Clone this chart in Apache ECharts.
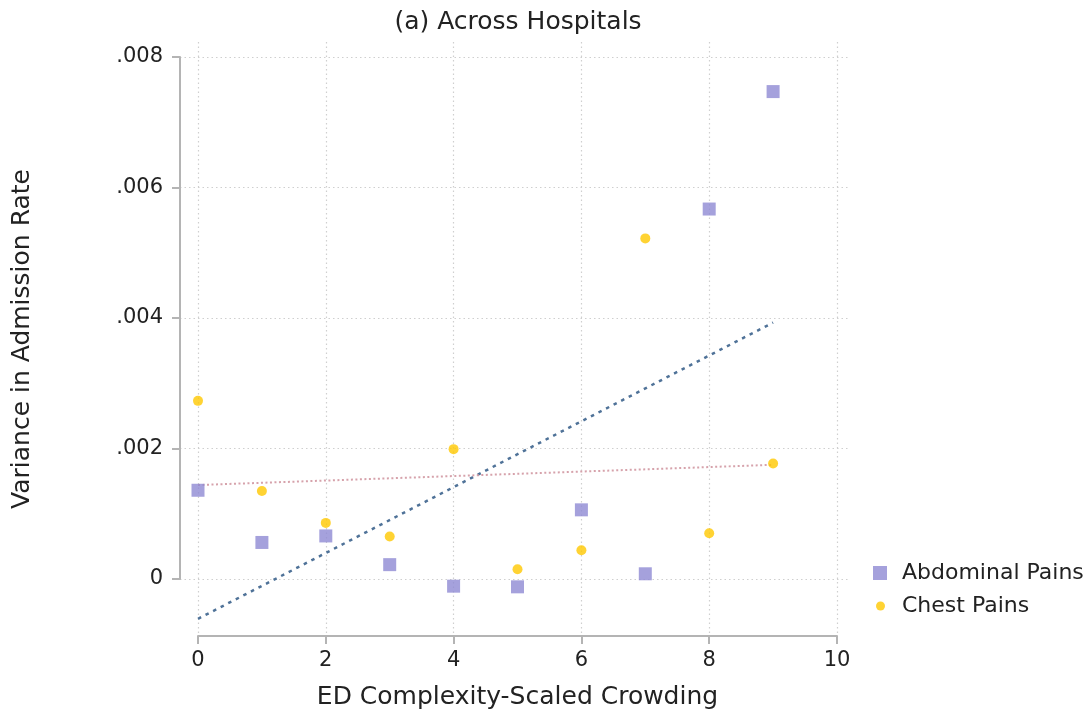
<!DOCTYPE html>
<html>
<head>
<meta charset="utf-8">
<title>Across Hospitals</title>
<script src="https://cdn.jsdelivr.net/npm/echarts@6/dist/echarts.min.js"></script>
<style>
html, body { margin: 0; padding: 0; background: #fff; }
#main { width: 1089px; height: 715px; }
</style>
</head>
<body>
<div id="main"></div>
<script>
// crowding levels (x) and the two variance series
var crowding = [0, 1, 2, 3, 4, 5, 6, 7, 8, 9];
var abdominal = [0.00136, 0.00056, 0.00066, 0.00022, -0.00011, -0.00012, 0.00106, 0.00008, 0.00567, 0.00747];
var chest = [0.00273, 0.00135, 0.00086, 0.00065, 0.00199, 0.00015, 0.00044, 0.00522, 0.00070, 0.00177];
// fitted lines, end points
var fitX = [0, 9];
var abdominalFit = [-0.00061, 0.00393];
var chestFit = [0.00144, 0.00175];
// axis ticks
var xTicks = [0, 2, 4, 6, 8, 10];
var yTicks = [0, 0.002, 0.004, 0.006, 0.008];

var font = 'DejaVu Sans';
var txt = '#222';
var axisGray = '#b4b4b4';
var gridDots = { color: '#cfcfcf', width: 1.2, type: [1.5, 3] };

function pairs(xs, ys) {
	var out = [];
	for (var i = 0; i < xs.length; i++) out.push([xs[i], ys[i]]);
	return out;
}

var myChart = echarts.init(document.getElementById('main'));
option = {
	animation: false,
	backgroundColor: '#fff',
	title: {
		text: '(a) Across Hospitals',
		left: 518,
		top: 10,
		padding: 0,
		textAlign: 'center',
		textStyle: { fontFamily: font, fontSize: 25, fontWeight: 'normal', color: txt }
	},
	legend: [{
		data: [{ name: 'Abdominal Pains', icon: 'rect' }],
		orient: 'vertical',
		left: 873,
		top: 562,
		padding: 0,
		itemWidth: 14,
		itemHeight: 14,
		textStyle: { fontFamily: font, fontSize: 22, color: txt, padding: [0, 0, 0, 10] }
	}, {
		data: [{ name: 'Chest Pains', icon: 'circle' }],
		orient: 'vertical',
		left: 876,
		top: 595,
		padding: 0,
		itemWidth: 9,
		itemHeight: 9,
		textStyle: { fontFamily: font, fontSize: 22, color: txt, padding: [0, 0, 0, 12] }
	}],
	grid: [
		// data area: x 0..10, y 0...008
		{ left: 198, top: 57, width: 639, height: 522 },
		// y axis + horizontal grid lines
		{ left: 180, top: 57, width: 670, height: 522 },
		// x axis + vertical grid lines
		{ left: 198, top: 42, width: 639, height: 595 }
	],
	xAxis: [{
		gridIndex: 0, type: 'value', min: 0, max: 10, show: false
	}, {
		gridIndex: 1, type: 'value', min: 0, max: 10, show: false
	}, {
		gridIndex: 2,
		type: 'value',
		min: xTicks[0],
		max: xTicks[xTicks.length - 1],
		interval: 2,
		name: 'ED Complexity-Scaled Crowding',
		nameLocation: 'middle',
		nameGap: 49,
		nameTextStyle: { fontFamily: font, fontSize: 25, color: txt },
		axisLine: { show: true, lineStyle: { color: axisGray, width: 2 } },
		axisTick: { show: true, length: 8, lineStyle: { color: axisGray, width: 2 } },
		axisLabel: { margin: 14, fontFamily: font, fontSize: 21, color: txt },
		splitLine: { show: true, lineStyle: gridDots }
	}],
	yAxis: [{
		gridIndex: 0, type: 'value', min: 0, max: 0.008, show: false
	}, {
		gridIndex: 1,
		type: 'value',
		min: yTicks[0],
		max: yTicks[yTicks.length - 1],
		interval: 0.002,
		axisLine: { show: true, lineStyle: { color: axisGray, width: 2 } },
		axisTick: { show: true, length: 8, lineStyle: { color: axisGray, width: 2 } },
		axisLabel: {
			margin: 17,
			fontFamily: font,
			fontSize: 21,
			color: txt,
			formatter: function (v) {
				if (v === 0) return '0';
				return v.toFixed(3).replace(/^0/, '');
			}
		},
		splitLine: { show: true, lineStyle: gridDots }
	}, {
		gridIndex: 2,
		type: 'value',
		min: 0,
		max: 1,
		name: 'Variance in Admission Rate',
		nameLocation: 'middle',
		nameRotate: 90,
		nameGap: 163,
		nameTextStyle: { fontFamily: font, fontSize: 25, color: txt },
		axisLine: { show: false },
		axisTick: { show: false },
		axisLabel: { show: false },
		splitLine: { show: false }
	}],
	series: [{
		name: 'Abdominal Pains',
		type: 'scatter',
		xAxisIndex: 0,
		yAxisIndex: 0,
		clip: false,
		symbol: 'rect',
		symbolSize: 13,
		itemStyle: { color: '#8e8ad3' },
		data: pairs(crowding, abdominal),
		z: 3
	}, {
		name: 'Chest Pains',
		type: 'scatter',
		xAxisIndex: 0,
		yAxisIndex: 0,
		clip: false,
		symbol: 'circle',
		symbolSize: 10,
		itemStyle: { color: '#ffc800' },
		data: pairs(crowding, chest),
		z: 3
	}, {
		name: 'Abdominal fit',
		type: 'line',
		xAxisIndex: 0,
		yAxisIndex: 0,
		clip: false,
		showSymbol: false,
		symbol: 'none',
		lineStyle: { color: '#4f7298', width: 2.5, type: [3.5, 5] },
		data: pairs(fitX, abdominalFit),
		z: 2
	}, {
		name: 'Chest fit',
		type: 'line',
		xAxisIndex: 0,
		yAxisIndex: 0,
		clip: false,
		showSymbol: false,
		symbol: 'none',
		lineStyle: { color: '#d6a2ab', width: 2, type: [2, 2.5] },
		data: pairs(fitX, chestFit),
		z: 2
	}]
};
myChart.setOption(option);
</script>
</body>
</html>
